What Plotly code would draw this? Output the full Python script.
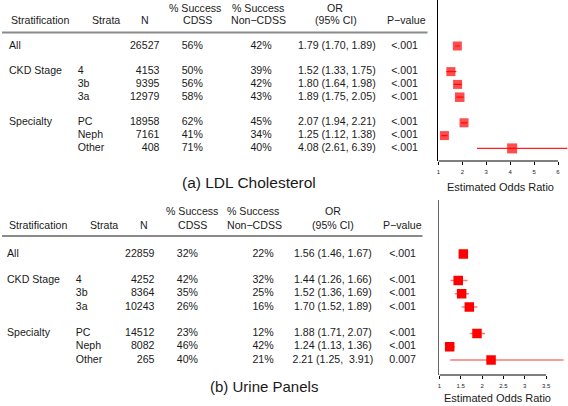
import plotly.graph_objects as go

# ---------------- data ----------------
strat_labels = ["All", "CKD Stage", "", "", "Specialty", "", ""]
strata = ["", "4", "3b", "3a", "PC", "Neph", "Other"]
row_slot = [0, 2, 3, 4, 6, 7, 8]

ldl_n = [26527, 4153, 9395, 12979, 18958, 7161, 408]
ldl_cdss = [56, 50, 56, 58, 62, 41, 71]
ldl_non = [42, 39, 42, 43, 45, 34, 40]
ldl_or = [1.79, 1.52, 1.80, 1.89, 2.07, 1.25, 4.08]
ldl_lo = [1.70, 1.33, 1.64, 1.75, 1.94, 1.12, 2.61]
ldl_hi = [1.89, 1.75, 1.98, 2.05, 2.21, 1.38, 6.39]
ldl_p = ["<.001", "<.001", "<.001", "<.001", "<.001", "<.001", "<.001"]
ldl_ticks = [1, 2, 3, 4, 5, 6]

uri_n = [22859, 4252, 8364, 10243, 14512, 8082, 265]
uri_cdss = [32, 42, 35, 26, 23, 46, 40]
uri_non = [22, 32, 25, 16, 12, 42, 21]
uri_or = [1.56, 1.44, 1.52, 1.70, 1.88, 1.24, 2.21]
uri_lo = [1.46, 1.26, 1.36, 1.52, 1.71, 1.13, 1.25]
uri_hi = [1.67, 1.66, 1.69, 1.89, 2.07, 1.36, 3.91]
uri_p = ["<.001", "<.001", "<.001", "<.001", "<.001", "<.001", "0.007"]
uri_sep = [" ", " ", " ", " ", " ", " ", "  "]
uri_ticks = [1, 1.5, 2, 2.5, 3, 3.5]

W, H = 568, 406
FONT = "Liberation Sans, Arial, Helvetica, sans-serif"
FS = 10.6
TXT = "#1a1a1a"

fig = go.Figure()


def or_text(o, l, h, sep=" "):
    return f"{o:.2f} ({l:.2f},{sep}{h:.2f})"


def add_table(yaxis, cols, n, cdss, non, orv, lo, hi, pv, seps):
    x_strat, x_strata, x_n, x_c, x_nc, x_or, x_p = cols
    ortxt = [or_text(o, l, h, s) for o, l, h, s in zip(orv, lo, hi, seps)]
    specs = [
        (x_strat, strat_labels, "middle right"),
        (x_strata, strata, "middle right"),
        (x_n, [str(v) for v in n], "middle left"),
        (x_c, [f"{v}%" for v in cdss], "middle center"),
        (x_nc, [f"{v}%" for v in non], "middle center"),
        (x_or, ortxt, "middle center"),
        (x_p, pv, "middle center"),
    ]
    for x, txt, pos in specs:
        fig.add_trace(go.Scatter(
            x=[x] * len(txt), y=row_slot, text=txt, mode="text",
            textposition=pos, xaxis="x3", yaxis=yaxis, cliponaxis=False,
            textfont=dict(family=FONT, size=FS, color=TXT),
            hoverinfo="skip", showlegend=False))


add_table("y", (7, 76, 158, 191, 260, 336, 404),
          ldl_n, ldl_cdss, ldl_non, ldl_or, ldl_lo, ldl_hi, ldl_p, [" "] * 7)
add_table("y2", (5, 74, 153, 186, 262, 332, 402),
          uri_n, uri_cdss, uri_non, uri_or, uri_lo, uri_hi, uri_p, uri_sep)

# forest plots
fig.add_trace(go.Scatter(
    x=ldl_or, y=row_slot, mode="markers", xaxis="x", yaxis="y",
    marker=dict(symbol="square", size=[9, 9, 9, 9.5, 9, 9, 10], color="#ff0000",
                line=dict(width=0)),
    error_x=dict(type="data", symmetric=False,
                 array=[h - o for h, o in zip(ldl_hi, ldl_or)],
                 arrayminus=[o - l for o, l in zip(ldl_or, ldl_lo)],
                 width=0, thickness=1.2, color="#ff2020"),
    cliponaxis=False, showlegend=False, hoverinfo="skip"))

fig.add_trace(go.Scatter(
    x=uri_or, y=row_slot, mode="markers", xaxis="x2", yaxis="y2",
    marker=dict(symbol="square", size=9.5, color="#ff0000", line=dict(width=0)),
    error_x=dict(type="data", symmetric=False,
                 array=[h - o for h, o in zip(uri_hi, uri_or)],
                 arrayminus=[o - l for o, l in zip(uri_or, uri_lo)],
                 width=0, thickness=1.5, color="#f47a7a"),
    cliponaxis=False, showlegend=False, hoverinfo="skip"))

# ---------------- layout ----------------
def pxy(p):
    return 1 - p / H


top_px_per_slot, top_slot0 = 12.8, 46
bot_px_per_slot, bot_slot0 = 13.25, 254

axcommon = dict(showgrid=False, zeroline=False)
tickfont = dict(family=FONT, size=6, color="#222")

fig.update_layout(
    width=W, height=H, margin=dict(l=0, r=0, t=0, b=0),
    paper_bgcolor="white", plot_bgcolor="rgba(0,0,0,0)",
    showlegend=False,
    xaxis=dict(domain=[438 / W, 1], range=[1, 1 + (W - 438) / 24.0],
               anchor="y", tickvals=ldl_ticks, ticks="outside", ticklen=3,
               tickwidth=1, tickcolor="#000", tickfont=tickfont,
               showline=False, ticklabelstandoff=2, **axcommon),
    yaxis=dict(domain=[pxy(161), 1],
               range=[(161 - top_slot0) / top_px_per_slot, (0 - top_slot0) / top_px_per_slot],
               anchor="x", showticklabels=False, ticks="", showline=True,
               linecolor="#000", linewidth=1, **axcommon),
    xaxis2=dict(domain=[439 / W, 1], range=[1, 1 + (W - 439) / 42.8],
                anchor="y2", tickvals=uri_ticks, ticks="outside", ticklen=3,
                tickwidth=1, tickcolor="#000", tickfont=tickfont,
                showline=False, ticklabelstandoff=2, **axcommon),
    yaxis2=dict(domain=[pxy(375), pxy(200)],
                range=[(375 - bot_slot0) / bot_px_per_slot, (200 - bot_slot0) / bot_px_per_slot],
                anchor="x2", showticklabels=False, ticks="", showline=True,
                linecolor="#666", linewidth=1.5, **axcommon),
    xaxis3=dict(domain=[0, 1], range=[0, W], anchor="y3", visible=False, **axcommon),
    yaxis3=dict(domain=[0, 1], range=[H, 0], anchor="x3", visible=False, **axcommon),
)

shapes = [
    dict(type="line", xref="x3", yref="y3", x0=0, x1=427, y0=32.5, y1=32.5,
         line=dict(color="#8a8a8a", width=2.2)),
    dict(type="line", xref="x3", yref="y3", x0=0, x1=422, y0=236, y1=236,
         line=dict(color="#8a8a8a", width=2.2)),
    dict(type="line", xref="x", yref="y domain", x0=ldl_ticks[0], x1=ldl_ticks[-1],
         y0=0, y1=0, line=dict(color="#000", width=1)),
    dict(type="line", xref="x2", yref="y2 domain", x0=uri_ticks[0], x1=uri_ticks[-1],
         y0=0, y1=0, line=dict(color="#000", width=1)),
]
fig.update_layout(shapes=shapes)

def ann(x, y, t, xanchor="center", size=FS):
    return dict(x=x, y=y, xref="x3", yref="y3", text=t, showarrow=False,
                xanchor=xanchor, yanchor="middle",
                font=dict(family=FONT, size=size, color=TXT))

anns = [
    # top header
    ann(7, 20, "Stratification", "left"),
    ann(104, 20, "Strata"),
    ann(143, 20, "N"),
    ann(194, 8, "% Success"), ann(196, 20, "CDSS"),
    ann(257, 8, "% Success"), ann(257, 20, "Non\u2212CDSS"),
    ann(334, 8, "OR"), ann(335, 20, "(95% CI)"),
    ann(406, 20, "P\u2212value"),
    ann(248, 182, "(a) LDL Cholesterol", size=15.5),
    ann(500, 187, "Estimated Odds Ratio", size=11),
    # bottom header
    ann(5, 225, "Stratification", "left"),
    ann(102, 225, "Strata"),
    ann(142, 225, "N"),
    ann(191, 211, "% Success"), ann(191, 225, "CDSS"),
    ann(252, 211, "% Success"), ann(253, 225, "Non\u2212CDSS"),
    ann(332, 211, "OR"), ann(332, 225, "(95% CI)"),
    ann(402, 225, "P\u2212value"),
    ann(263, 386, "(b) Urine Panels", size=15),
    ann(497, 398, "Estimated Odds Ratio", size=11),
]
fig.update_layout(annotations=anns)

fig.write_html("out.html",
               config={"displayModeBar": False, "staticPlot": True},
               post_script="document.body.style.margin='0';document.body.style.overflow='hidden';")
